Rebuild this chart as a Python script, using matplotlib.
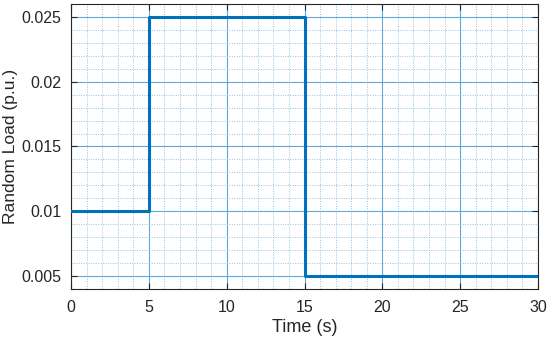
import matplotlib
matplotlib.use("Agg")
import matplotlib.pyplot as plt
from matplotlib.ticker import MultipleLocator

time_s = [0, 5, 15, 30]
load_pu = [0.01, 0.025, 0.005, 0.005]
x_ticks = [0, 5, 10, 15, 20, 25, 30]
y_ticks = [0.005, 0.01, 0.015, 0.02, 0.025]
y_tick_labels = ["0.005", "0.01", "0.015", "0.02", "0.025"]

plt.rcParams['font.family'] = ['Liberation Sans', 'DejaVu Sans']
fig = plt.figure(figsize=(5.5, 3.4), dpi=100)
ax = fig.add_axes([71/550, 1 - 289/340, (538-71)/550, (289-4)/340])

ax.step(time_s, load_pu, where='post', color='#0072BD', lw=2.2, zorder=3)
ax.set_xlim(0, 30)
ax.set_ylim(0.004, 0.026)
ax.set_xticks(x_ticks)
ax.set_yticks(y_ticks)
ax.set_yticklabels(y_tick_labels)
ax.xaxis.set_minor_locator(MultipleLocator(1))
ax.yaxis.set_minor_locator(MultipleLocator(0.001))
ax.grid(which='major', color='#5FA8DC', lw=0.8, ls='-')
ax.grid(which='minor', color='#8EC3E8', lw=0.7, ls=(0, (1, 1.5)))
ax.set_axisbelow(True)
ax.tick_params(which='major', direction='in', top=True, right=True, length=4, width=0.8, labelsize=11.5, colors='#262626')
ax.tick_params(axis='x', pad=8)
ax.tick_params(axis='y', pad=7)
ax.tick_params(which='minor', length=0)
for s in ax.spines.values():
    s.set_color('#262626')
    s.set_linewidth(0.8)
ax.set_xlabel('Time (s)', fontsize=13, color='#262626', labelpad=3)
ax.set_ylabel('Random Load (p.u.)', fontsize=12.5, color='#262626')
ax.yaxis.set_label_coords(-0.114, 0.5)
fig.savefig('out.png', dpi=100)
